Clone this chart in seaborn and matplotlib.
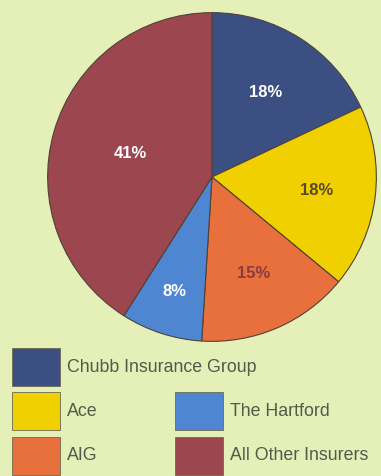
import matplotlib
matplotlib.use("Agg")
import matplotlib.pyplot as plt
import seaborn as sns
import numpy as np
from matplotlib.patches import Rectangle

insurers = ["Chubb Insurance Group", "Ace", "AIG", "The Hartford", "All Other Insurers"]
shares = [18, 18, 15, 8, 41]
colors = ["#3b4f82", "#f0d000", "#e8703c", "#4f86d2", "#9c4650"]
label_colors = ["white", "#5a4a2a", "#8a3a40", "white", "white"]
label_radius = [0.61, 0.64, 0.64, 0.73, 0.52]

bg = "#e5efb8"
sns.set_theme(style="white")
plt.rcParams["font.family"] = ["Liberation Sans", "DejaVu Sans"]

fig = plt.figure(figsize=(3.81, 4.76), dpi=100)
fig.patch.set_facecolor(bg)

# pie
W, H = 381, 476
cx, cy, r = 212, 177, 166
ax = fig.add_axes([(cx - r) / W, (H - cy - r) / H, 2 * r / W, 2 * r / H])
ax.set_facecolor(bg)
wedges, _ = ax.pie(shares, colors=colors, startangle=90, counterclock=False,
                   radius=1, wedgeprops=dict(edgecolor="#4e4238", linewidth=0.8))
ax.set_xlim(-1.01, 1.01)
ax.set_ylim(-1.01, 1.01)
ax.set_aspect("equal")
ax.axis("off")

for w, s, c, rr in zip(wedges, shares, label_colors, label_radius):
    mid = np.deg2rad((w.theta1 + w.theta2) / 2)
    ax.text(rr * np.cos(mid), rr * np.sin(mid), f"{s}%", color=c,
            ha="center", va="center", fontsize=12, fontweight="bold")

# legend drawn by hand (Chubb on its own row, then two columns)
lax = fig.add_axes([0, 0, 1, 1])
lax.set_xlim(0, W)
lax.set_ylim(H, 0)
lax.axis("off")
slots = [(12, 348), (12, 392), (12, 437), (175, 392), (175, 437)]
for name, col, (x, y) in zip(insurers, colors, slots):
    lax.add_patch(Rectangle((x, y), 48, 38, facecolor=col, edgecolor="#6a6a50", linewidth=0.6))
    lax.text(x + 55, y + 19, name, va="center", ha="left", fontsize=12.8,
             color="#55594a")

fig.savefig("out.png", dpi=100, facecolor=bg)
